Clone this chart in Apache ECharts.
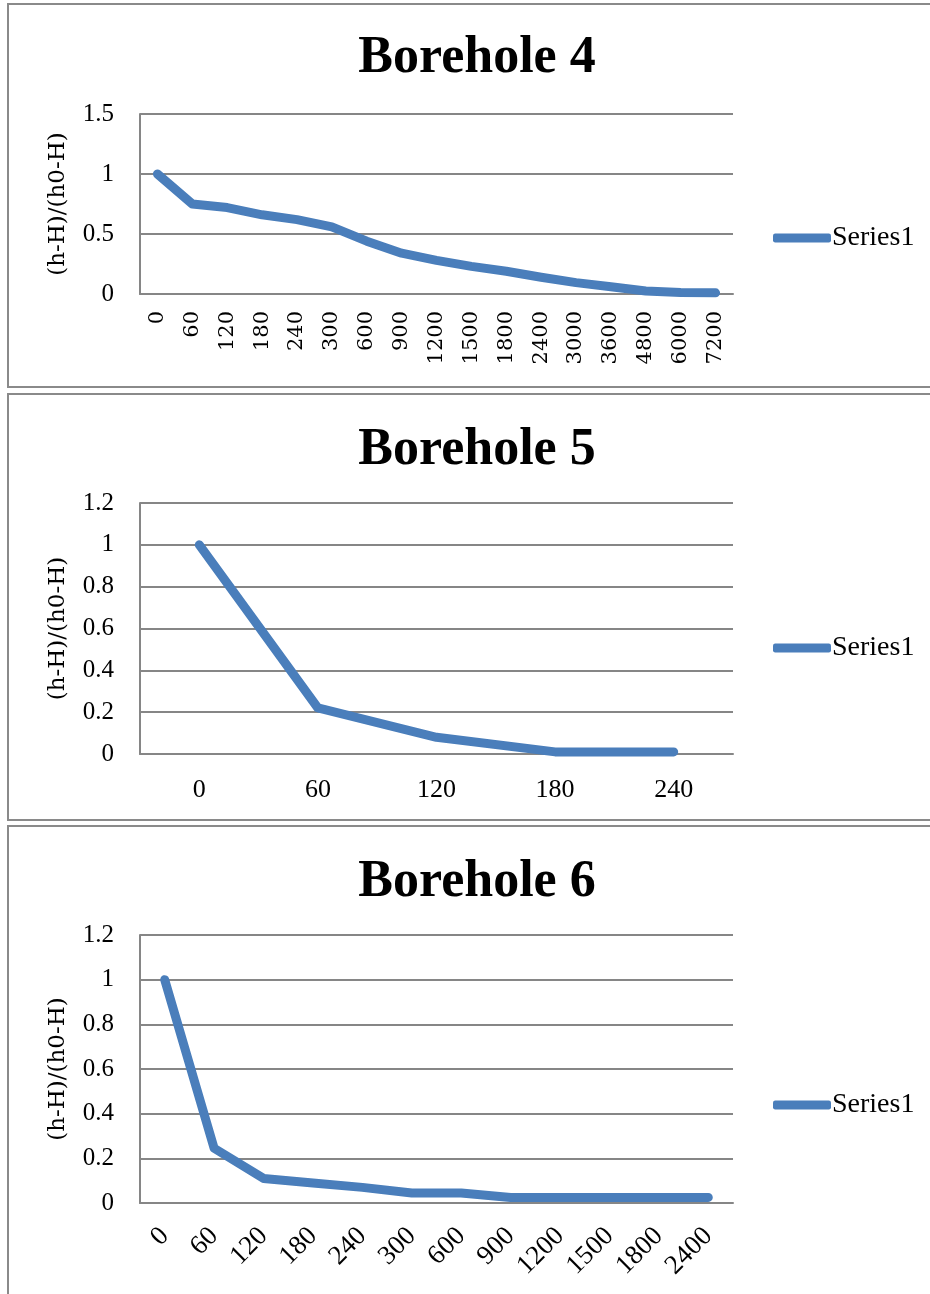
<!DOCTYPE html>
<html><head><meta charset="utf-8">
<script src="https://cdn.jsdelivr.net/npm/echarts@6/dist/echarts.min.js"></script>
<style>html,body{margin:0;padding:0;background:#fff;overflow:hidden}#c{width:930px;height:1294px}</style>
</head><body><div id="c"></div>
<script>
// ---- data ----
const titles = ['Borehole 4', 'Borehole 5', 'Borehole 6'];
const seriesName = 'Series1';
const yAxisTitle = '(h-H)/(h0-H)';
const cats4 = ['0','60','120','180','240','300','600','900','1200','1500','1800','2400','3000','3600','4800','6000','7200'];
const vals4 = [1.0, 0.75, 0.72, 0.66, 0.62, 0.56, 0.44, 0.34, 0.28, 0.23, 0.19, 0.14, 0.095, 0.06, 0.025, 0.012, 0.01];
const cats5 = ['0','60','120','180','240'];
const vals5 = [1.0, 0.22, 0.08, 0.01, 0.01];
const cats6 = ['0','60','120','180','240','300','600','900','1200','1500','1800','2400'];
const vals6 = [1.0, 0.245, 0.11, 0.09, 0.07, 0.045, 0.045, 0.025, 0.025, 0.025, 0.025, 0.025];
const yMaxes = [1.5, 1.2, 1.2];
const ySteps = [0.5, 0.2, 0.2];

// ---- layout / style ----
const GRAY = '#868686', BORDER = '#8a8a8a', BLUE = '#4A7EBB';
const SERIF = '"Liberation Serif", "Times New Roman", serif';
const panels = [
  {cats: cats4, vals: vals4, boxTop: 4, boxBottom: 387, gridTop: 114, gridH: 180, titleTop: 28, legendCy: 236, rot: 90, xMargin: 17, xFont: '"DejaVu Serif", serif', xSize: 21},
  {cats: cats5, vals: vals5, boxTop: 394, boxBottom: 820, gridTop: 503, gridH: 251, titleTop: 420, legendCy: 646, rot: 0, xMargin: 23, xFont: SERIF, xSize: 26},
  {cats: cats6, vals: vals6, boxTop: 826, boxBottom: 1310, gridTop: 935, gridH: 268, titleTop: 852, legendCy: 1103, rot: 45, xMargin: 29, xFont: SERIF, xSize: 27}
];

const option = {
  animation: false,
  backgroundColor: '#fff',
  title: [], legend: [], grid: [], xAxis: [], yAxis: [], series: [],
  graphic: []
};

panels.forEach((p, i) => {
  option.graphic.push({
    type: 'rect', silent: true, z: -1,
    shape: {x: 8, y: p.boxTop, width: 960, height: p.boxBottom - p.boxTop},
    style: {fill: 'none', stroke: BORDER, lineWidth: 2}
  });
  option.title.push({
    text: titles[i], left: 472, top: p.titleTop, textAlign: 'center',
    textStyle: {fontFamily: SERIF, fontWeight: 'bold', fontSize: 52, color: '#000'}
  });
  option.legend.push({
    data: [seriesName], left: 768, top: p.legendCy - 17, itemWidth: 58, itemHeight: 9,
    icon: 'roundRect', itemStyle: {color: BLUE}, selectedMode: false,
    textStyle: {fontFamily: SERIF, fontSize: 28, color: '#000', padding: [0, 0, 0, -4]}
  });
  option.grid.push({left: 140, right: 197, top: p.gridTop, height: p.gridH, containLabel: false});
  option.xAxis.push({
    type: 'category', gridIndex: i, data: p.cats, boundaryGap: true,
    axisLine: {lineStyle: {color: GRAY, width: 2}},
    axisTick: {show: false},
    axisLabel: {interval: 0, rotate: p.rot, margin: p.xMargin, color: '#000', fontFamily: p.xFont, fontSize: p.xSize}
  });
  option.yAxis.push({
    type: 'value', gridIndex: i, min: 0, max: yMaxes[i], interval: ySteps[i],
    name: yAxisTitle, nameLocation: 'middle', nameGap: 70,
    nameTextStyle: {fontFamily: '"DejaVu Serif", serif', fontSize: 23, color: '#000'},
    axisLine: {show: true, lineStyle: {color: GRAY, width: 2}},
    axisTick: {show: false},
    splitLine: {lineStyle: {color: GRAY, width: 2}},
    axisLabel: {margin: 26, color: '#000', fontFamily: SERIF, fontSize: 25,
      formatter: v => String(Math.round(v * 10) / 10)}
  });
  option.series.push({
    name: seriesName, type: 'line', xAxisIndex: i, yAxisIndex: i, data: p.vals,
    showSymbol: false, symbol: 'none', color: BLUE,
    lineStyle: {color: BLUE, width: 9, cap: 'round', join: 'round'}
  });
});

const chart = echarts.init(document.getElementById('c'), null, {renderer: 'canvas'});
chart.setOption(option);
</script>
</body></html>
